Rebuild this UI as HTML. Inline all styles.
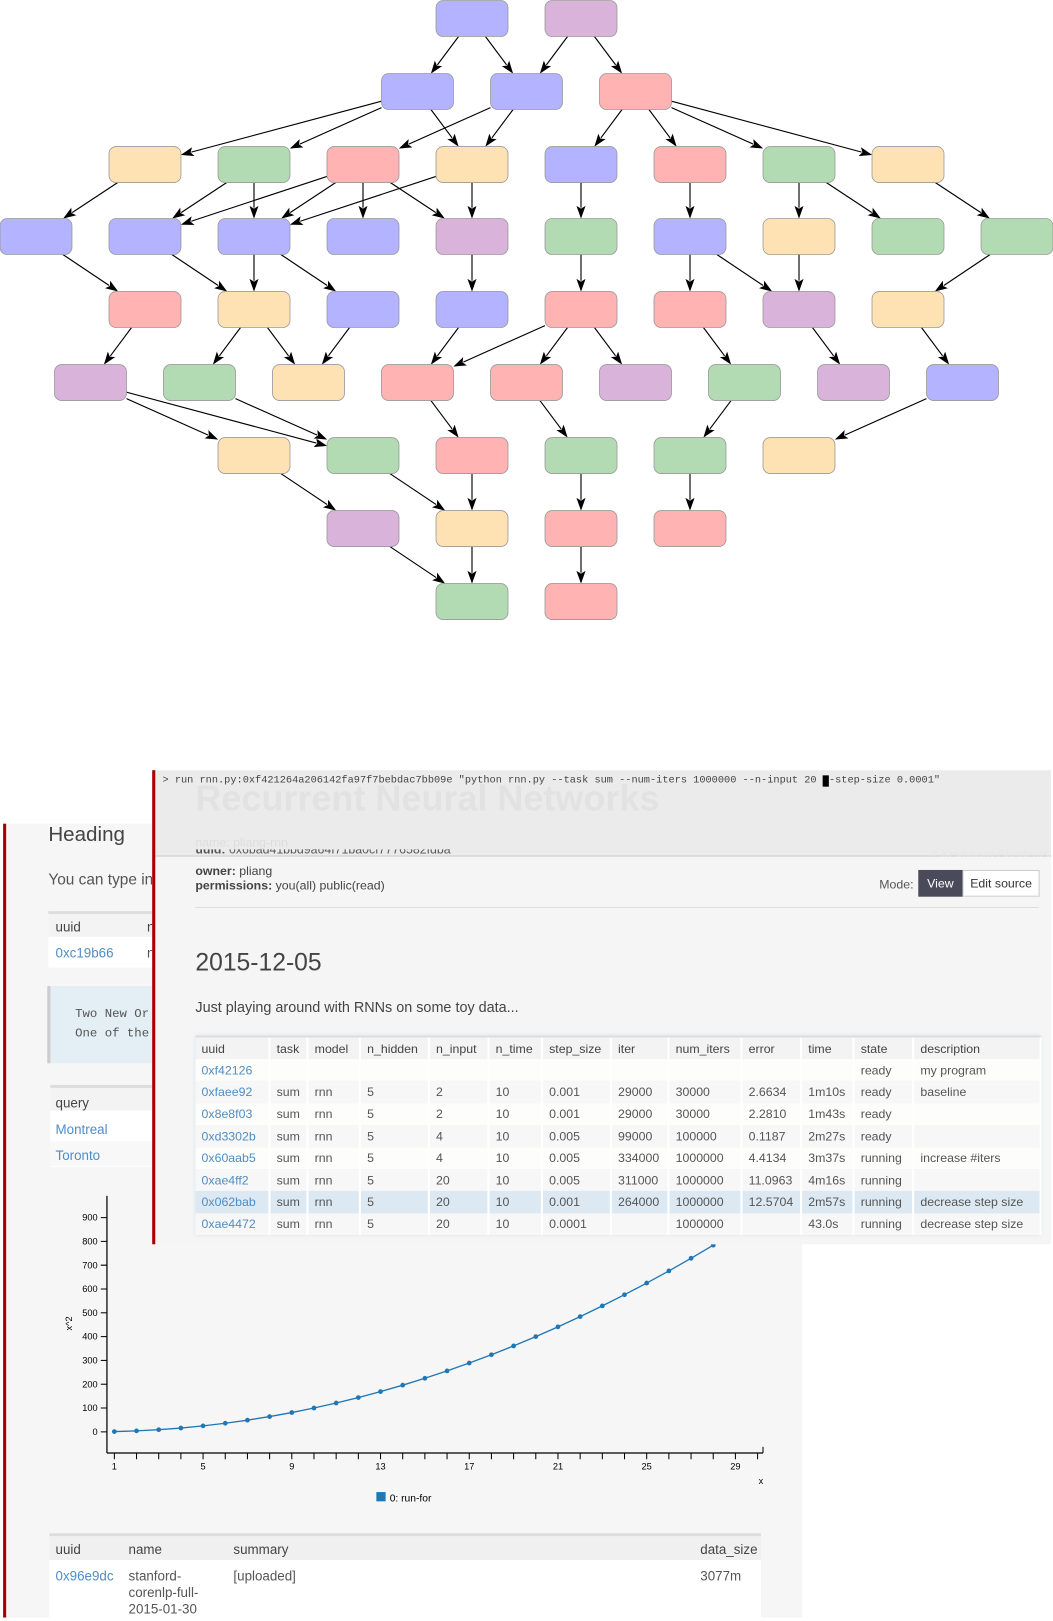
<!DOCTYPE html>
<html><head><meta charset="utf-8"><style>
html,body{margin:0;padding:0;background:#fff;overflow:hidden;width:1053px;height:1613px}
#wrap{position:absolute;left:0;top:0;width:1024px;height:1569px;transform:scale(1.02832);transform-origin:0 0;font-family:"Liberation Sans",sans-serif;color:#555}
.abs{position:absolute;white-space:nowrap}
.lnk{color:#4f8dc4}
table{border-collapse:collapse;table-layout:fixed}
td{padding:0 0 0 6px;white-space:nowrap;overflow:hidden}
.mono{font-family:"Liberation Mono",monospace}
</style></head><body>
<div id="wrap">

<svg id="dag" class="abs" style="left:0;top:0" width="1024" height="620"></svg>

<div class="abs" style="left:0;top:4px;width:1024px;height:1565px">
<!-- left panel -->
<div class="abs" style="left:6px;top:797px;width:774px;height:772px;background:#f6f6f6"></div>
<div class="abs" style="left:3px;top:797px;width:3px;height:772px;background:#a00"></div>
<div class="abs" style="left:47px;top:797px;font-size:20px;color:#444">Heading</div>
<div class="abs" style="left:47px;top:843px;font-size:15px">You can type in</div>
<div class="abs" style="left:47px;top:882px;width:110px;height:52px;background:#fff;border-top:3px solid #ddd">
 <div class="abs" style="left:0;top:0;width:110px;height:22px;background:#f3f3f3"></div>
 <div class="abs" style="left:7px;top:5px;font-size:13px;color:#444">uuid</div>
 <div class="abs" style="left:96px;top:5px;font-size:13px;color:#444">n</div>
 <div class="abs lnk" style="left:7px;top:30px;font-size:13px">0xc19b66</div>
 <div class="abs" style="left:96px;top:30px;font-size:13px">n</div>
</div>
<div class="abs mono" style="left:46px;top:955px;width:110px;height:75px;background:#e3eef5;border-left:3px solid #ccc;font-size:12px;color:#555">
 <div class="abs" style="left:24px;top:20px">Two New Or</div>
 <div class="abs" style="left:24px;top:39px">One of the</div>
</div>
<div class="abs" style="left:49px;top:1051px;width:110px;height:77px;background:#fff;border-top:3px solid #ddd;font-size:13px">
 <div class="abs" style="left:0;top:0;width:110px;height:22px;background:#f3f3f3"></div>
 <div class="abs" style="left:5px;top:7px;color:#444">query</div>
 <div class="abs lnk" style="left:5px;top:33px">Montreal</div>
 <div class="abs" style="left:0;top:52px;width:110px;height:24px;background:#f8f8f8"></div>
 <div class="abs lnk" style="left:5px;top:58px">Toronto</div>
</div>

<!-- chart -->
<svg id="chart" class="abs" style="left:0;top:1140px" width="780" height="330"></svg>

<!-- bottom table -->
<div class="abs" style="left:48px;top:1487px;width:692px;height:82px;background:#fff;border-top:3px solid #ddd;font-size:13px">
 <div class="abs" style="left:0;top:0;width:692px;height:23px;background:#f0f0f0"></div>
 <div class="abs" style="left:6px;top:5px;color:#444">uuid</div>
 <div class="abs" style="left:77px;top:5px;color:#444">name</div>
 <div class="abs" style="left:179px;top:5px;color:#444">summary</div>
 <div class="abs" style="left:633px;top:5px;color:#444">data_size</div>
 <div class="abs lnk" style="left:6px;top:31px">0x96e9dc</div>
 <div class="abs" style="left:77px;top:31px;line-height:16px">stanford-<br>corenlp-full-<br>2015-01-30</div>
 <div class="abs" style="left:179px;top:31px">[uploaded]</div>
 <div class="abs" style="left:633px;top:31px">3077m</div>
</div>

<!-- right panel -->
<div class="abs" style="left:148px;top:745px;width:874px;height:461px;background:#f5f5f5;overflow:hidden">
 <div class="abs" style="left:0;top:0;width:874px;height:83px;background:#ebebeb;border-bottom:1px solid #c8c8c8"></div>
 <div class="abs" style="left:42px;top:8px;font-size:35px;font-weight:bold;color:#e2e2e2">Recurrent Neural Networks</div>
 <div class="abs mono" style="left:10px;top:5px;font-size:10px;color:#444">&gt; run rnn.py:0xf421264a206142fa97f7bebdac7bb09e "python rnn.py --task sum --num-iters 1000000 --n-input 20 <span style="background:#000;color:#000">-</span>-step-size 0.0001"</div>
 <div class="abs" style="left:42px;top:63px;font-size:12px;color:#ddd">name: pliang-rnn</div>
 <div class="abs" style="left:757px;top:75px;font-size:12px;color:#e6e6e6">? Keyboard Shortcuts</div>
 <div class="abs" style="left:0;top:84px;width:874px;height:377px;background:#f5f5f5"></div>
 <div class="abs" style="left:42px;top:77px;height:7px;overflow:hidden;font-size:12px;color:#555;width:300px"><div style="margin-top:-7px"><b>uuid:</b> 0x6bad41bbd9a64f71ba0cf7776582fdba</div></div>
 <div class="abs" style="left:42px;top:91px;font-size:12px;color:#444"><b>owner:</b> pliang</div>
 <div class="abs" style="left:42px;top:105px;font-size:12px;color:#444"><b>permissions:</b> you(all) public(read)</div>
 <div class="abs" style="left:707px;top:104px;font-size:12px;color:#555">Mode:</div>
 <div class="abs" style="left:745px;top:97px;width:43px;height:26px;background:#4a4a5a;color:#fff;font-size:12px;line-height:26px;text-align:center">View</div>
 <div class="abs" style="left:788px;top:97px;width:73px;height:24px;background:#fff;border:1px solid #ccc;color:#333;font-size:12px;line-height:24px;text-align:center">Edit source</div>
 <div class="abs" style="left:42px;top:133px;width:820px;height:1px;background:#ddd"></div>
 <div class="abs" style="left:42px;top:174px;font-size:24px;color:#444">2015-12-05</div>
 <div class="abs" style="left:42px;top:222px;font-size:14px;color:#444">Just playing around with RNNs on some toy data...</div>
 <div class="abs" style="left:42px;top:258px;width:822px;border-top:2px solid #ddd;box-shadow:0 0 4px #cfe2ee;font-size:12px">
 <table style="width:822px">
  <colgroup><col style="width:72px"><col style="width:37px"><col style="width:51px"><col style="width:67px"><col style="width:58px"><col style="width:52px"><col style="width:67px"><col style="width:56px"><col style="width:71px"><col style="width:58px"><col style="width:51px"><col style="width:58px"><col style="width:124px"></colgroup>
  <tbody id="runs"></tbody>
 </table>
 </div>
</div>
<div class="abs" style="left:148px;top:745px;width:3px;height:461px;background:#a00"></div>
</div>
</div>

<script>
// ---------- DAG ----------
const nodeColors={B:'#b3b3ff',P:'#d9b3d9',R:'#ffb3b3',Y:'#ffe2b3',G:'#b3dbb3'};
const rowY=[18,89,160,230,301,372,443,514,585];
const nodes={
 a:['B',459,0],b:['P',565,0],
 c:['B',406,1],d:['B',512,1],e:['R',618,1],
 f:['Y',141,2],g:['G',247,2],h:['R',353,2],i:['Y',459,2],j:['B',565,2],k:['R',671,2],l:['G',777,2],m:['Y',883,2],
 n:['B',35,3],o:['B',141,3],p:['B',247,3],q:['B',353,3],r:['P',459,3],s:['G',565,3],t:['B',671,3],u:['Y',777,3],v:['G',883,3],w:['G',989,3],
 x:['R',141,4],y:['Y',247,4],z:['B',353,4],A:['B',459,4],Bn:['R',565,4],C:['R',671,4],D:['P',777,4],E:['Y',883,4],
 F:['P',88,5],G:['G',194,5],H:['Y',300,5],I:['R',406,5],J:['R',512,5],K:['P',618,5],L:['G',724,5],M:['P',830,5],N:['B',936,5],
 O:['Y',247,6],Pn:['G',353,6],Q:['R',459,6],R:['G',565,6],S:['G',671,6],T:['Y',777,6],
 U:['P',353,7],V:['Y',459,7],W:['R',565,7],X:['R',671,7],
 Y:['G',459,8],Z:['R',565,8]
};
const edges=[['a','c'],['a','d'],['b','d'],['b','e'],
 ['c','f'],['c','g'],['c','i'],['d','h'],['d','i'],['e','j'],['e','k'],['e','l'],['e','m'],
 ['f','n'],['g','o'],['g','p'],['h','o'],['h','p'],['h','q'],['h','r'],['i','p'],['i','r'],['j','s'],['k','t'],['l','u'],['l','v'],['m','w'],
 ['n','x'],['o','y'],['p','y'],['p','z'],['r','A'],['s','Bn'],['t','C'],['t','D'],['u','D'],['w','E'],
 ['x','F'],['y','G'],['y','H'],['z','H'],['A','I'],['Bn','I'],['Bn','J'],['Bn','K'],['C','L'],['D','M'],['E','N'],
 ['F','O'],['F','Pn'],['G','Pn'],['I','Q'],['J','R'],['L','S'],['N','T'],
 ['O','U'],['Pn','V'],['Q','V'],['R','W'],['S','X'],
 ['U','Y'],['V','Y'],['W','Z']];
const NS='http://www.w3.org/2000/svg';
const dag=document.getElementById('dag');
const defs=document.createElementNS(NS,'defs');
defs.innerHTML='<marker id="ah" markerWidth="14" markerHeight="10" refX="13" refY="5" orient="auto" markerUnits="userSpaceOnUse"><path d="M0,0 L14,5 L0,10 L3,5 z" fill="#000" stroke="#fff" stroke-width="0.6"/></marker>';
dag.appendChild(defs);
const HW=35,HH=17.5;
function clip(cx,cy,dx,dy){const t=Math.min(dx?HW/Math.abs(dx):1e9,dy?HH/Math.abs(dy):1e9);return [cx+dx*t,cy+dy*t];}
edges.forEach(([s,t])=>{
 const A=nodes[s],B=nodes[t];
 const x1=A[1],y1=rowY[A[2]],x2=B[1],y2=rowY[B[2]];
 const dx=x2-x1,dy=y2-y1;
 const p1=clip(x1,y1,dx,dy),p2=clip(x2,y2,-dx,-dy);
 const ln=document.createElementNS(NS,'line');
 
 
 ln.setAttribute('x1',p1[0]);ln.setAttribute('y1',p1[1]);ln.setAttribute('x2',p2[0]);ln.setAttribute('y2',p2[1]);
 ln.setAttribute('stroke','#000');ln.setAttribute('stroke-width','1.1');ln.setAttribute('marker-end','url(#ah)');
 dag.appendChild(ln);
});
Object.values(nodes).forEach(n=>{
 const r=document.createElementNS(NS,'rect');
 
 
 r.setAttribute('x',n[1]-HW);r.setAttribute('y',rowY[n[2]]-HH);r.setAttribute('width',70);r.setAttribute('height',35);
 r.setAttribute('rx',7);r.setAttribute('fill',nodeColors[n[0]]);r.setAttribute('stroke','#9a9a9a');r.setAttribute('stroke-width','0.8');
 dag.appendChild(r);
});

// ---------- runs table ----------
const runHeaders=['uuid','task','model','n_hidden','n_input','n_time','step_size','iter','num_iters','error','time','state','description'];
const runRows=[
['0xf42126','','','','','','','','','','','ready','my program'],
['0xfaee92','sum','rnn','5','2','10','0.001','29000','30000','2.6634','1m10s','ready','baseline'],
['0x8e8f03','sum','rnn','5','2','10','0.001','29000','30000','2.2810','1m43s','ready',''],
['0xd3302b','sum','rnn','5','4','10','0.005','99000','100000','0.1187','2m27s','ready',''],
['0x60aab5','sum','rnn','5','4','10','0.005','334000','1000000','4.4134','3m37s','running','increase #iters'],
['0xae4ff2','sum','rnn','5','20','10','0.005','311000','1000000','11.0963','4m16s','running',''],
['0x062bab','sum','rnn','5','20','10','0.001','264000','1000000','12.5704','2m57s','running','decrease step size'],
['0xae4472','sum','rnn','5','20','10','0.0001','','1000000','','43.0s','running','decrease step size']];
const tb=document.getElementById('runs');
const hr=document.createElement('tr');


hr.style.cssText='height:21px;background:#f3f3f3;color:#444';
runHeaders.forEach(h=>{const td=document.createElement('td');td.textContent=h;td.style.borderRight='2px solid #fff';hr.appendChild(td);});
tb.appendChild(hr);
runRows.forEach((r,i)=>{
 const tr=document.createElement('tr');
 
 
 tr.style.cssText='height:21.4px;background:'+(i===6?'#dde9f2':(i%2?'#f7f7f7':'#fdfdfb'));
 r.forEach((c,j)=>{const td=document.createElement('td');td.textContent=c;td.style.borderRight='2px solid #fff';if(j===0)td.className='lnk';tr.appendChild(td);});
 tb.appendChild(tr);
});

// ---------- chart ----------
const xVals=[1,2,3,4,5,6,7,8,9,10,11,12,13,14,15,16,17,18,19,20,21,22,23,24,25,26,27,28,29,30];
const yVals=[1,4,9,16,25,36,49,64,81,100,121,144,169,196,225,256,289,324,361,400,441,484,529,576,625,676,729,784,841,900];
const xTickLabels=[1,5,9,13,17,21,25,29];
const yTickLabels=[0,100,200,300,400,500,600,700,800,900];
const OY=1140;
const X=v=>111.2+(v-1)*21.57;
const Y=v=>1388.4-v*0.2315-OY;
const ch=document.getElementById('chart');
let s='';
s+='<line x1="104" y1="'+Y(-89)+'" x2="742" y2="'+Y(-89)+'" stroke="#000" stroke-width="1.2"/>';
s+='<line x1="104" y1="'+Y(-89)+'" x2="104" y2="'+(1159-OY)+'" stroke="#000" stroke-width="1.2"/>';
for(let v=1;v<=30;v++){s+='<line x1="'+X(v)+'" y1="'+Y(-89)+'" x2="'+X(v)+'" y2="'+(Y(-89)+6)+'" stroke="#000"/>';}
s+='<line x1="742" y1="'+Y(-89)+'" x2="742" y2="'+(Y(-89)-6)+'" stroke="#000"/>';
ch.innerHTML=s;
function add(tag,attrs,text){const e=document.createElementNS(NS,tag);for(const k in attrs)e.setAttribute(k,attrs[k]);if(text!==undefined)e.textContent=text;ch.appendChild(e);return e;}
xTickLabels.forEach(v=>{
 const t=add('text',{x:X(v),y:Y(-89)+16,'font-size':9,'text-anchor':'middle',fill:'#000','font-family':'Liberation Sans'},String(v));
 
 
});
yTickLabels.forEach(v=>{
 add('line',{x1:98,y1:Y(v),x2:104,y2:Y(v),stroke:'#000'});
 const t=add('text',{x:95,y:Y(v)+3,'font-size':9,'text-anchor':'end',fill:'#000','font-family':'Liberation Sans'},String(v));
 
 
});
const yt=add('text',{x:0,y:0,'font-size':9,'text-anchor':'middle',fill:'#000','font-family':'Liberation Sans',transform:'translate(70,'+(1283-OY)+') rotate(-90)'},'x^2');


const xt=add('text',{x:740,y:1439-OY,'font-size':9,'text-anchor':'middle',fill:'#000','font-family':'Liberation Sans'},'x');


const pl=add('polyline',{points:xVals.map((x,i)=>X(x)+','+Y(yVals[i])).join(' '),fill:'none',stroke:'#1f77b4','stroke-width':1.3});


xVals.forEach((x,i)=>{
 const c=add('circle',{cx:X(x),cy:Y(yVals[i]),r:2.3,fill:'#1f77b4'});
 
 
});
const lg=add('rect',{x:366,y:1447-OY,width:9,height:9,fill:'#1f77b4'});


const lt=add('text',{x:379,y:1456-OY,'font-size':10,fill:'#000','font-family':'Liberation Sans'},'0: run-for');


</script>
</body></html>
